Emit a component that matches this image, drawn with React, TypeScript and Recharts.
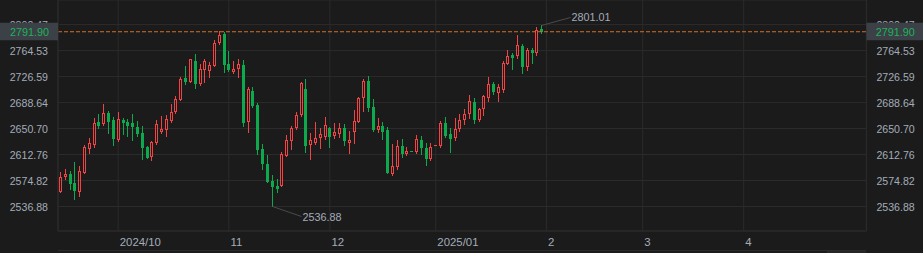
import React from 'react';
import { ComposedChart, Bar, XAxis, YAxis, CartesianGrid, ReferenceLine } from 'recharts';

// ---- categories ----
const START_DATE = '2024-09-13';
const SLOT_COUNT = 168; // trading-day slots shown on the axis (data + empty future)

const monthTicks = ['2024-10-01', '2024-11-01', '2024-12-02', '2025-01-01', '2025-02-03', '2025-03-03', '2025-04-01'];
const monthLabels = ['2024/10', '11', '12', '2025/01', '2', '3', '4'];

// ---- series (daily OHLC) ----
const opens = [
  2558.2, 2580.2, 2584.1, 2571.4, 2558.2, 2586.0, 2621.2, 2627.0, 2660.2, 2657.3,
  2673.4, 2662.7, 2634.3, 2663.1, 2660.2, 2659.2, 2653.3, 2644.1, 2623.7, 2609.5,
  2629.1, 2646.0, 2649.0, 2662.1, 2675.3, 2692.4, 2724.2, 2718.7, 2749.5, 2715.8,
  2736.7, 2735.3, 2742.2, 2774.8, 2788.5, 2745.0, 2733.4, 2737.8, 2743.6, 2660.7,
  2705.6, 2685.1, 2620.3, 2598.8, 2573.9, 2566.6, 2567.0, 2610.5, 2632.9, 2651.0,
  2670.5, 2708.5, 2627.0, 2629.9, 2637.3, 2638.8, 2651.4, 2639.3, 2643.1, 2651.4,
  2629.9, 2645.2, 2660.2, 2694.9, 2720.2, 2682.2, 2649.0, 2654.4, 2648.5, 2584.6,
  2594.8, 2625.1, 2613.8, 2617.4, 2616.8, 2633.4, 2621.7, 2606.5, 2626.1, 2625.1,
  2659.2, 2642.7, 2637.3, 2649.5, 2662.7, 2671.5, 2689.5, 2663.6, 2678.8, 2694.9,
  2715.8, 2702.2, 2707.5, 2745.5, 2758.3, 2756.3, 2771.4, 2741.1, 2765.6, 2760.7,
  2796.3,
];
const highs = [
  2586.6, 2591.5, 2588.5, 2601.7, 2595.8, 2626.1, 2636.8, 2666.1, 2671.9, 2686.6,
  2676.3, 2667.5, 2674.9, 2666.1, 2664.6, 2671.9, 2661.7, 2654.4, 2625.1, 2632.9,
  2663.1, 2669.0, 2670.5, 2686.6, 2698.3, 2726.1, 2742.2, 2752.8, 2759.7, 2744.6,
  2751.4, 2748.4, 2779.8, 2793.4, 2791.5, 2764.1, 2749.5, 2752.4, 2750.9, 2711.9,
  2711.9, 2687.6, 2628.0, 2611.9, 2582.7, 2576.8, 2616.8, 2641.6, 2654.4, 2674.4,
  2719.2, 2723.1, 2644.1, 2659.8, 2651.0, 2667.5, 2652.9, 2658.3, 2658.8, 2657.7,
  2647.1, 2677.8, 2697.2, 2723.1, 2727.5, 2693.9, 2666.1, 2660.2, 2652.9, 2628.0,
  2633.9, 2635.3, 2623.2, 2617.4, 2641.2, 2639.7, 2629.5, 2629.9, 2626.1, 2661.7,
  2667.5, 2651.4, 2666.1, 2671.9, 2679.2, 2699.7, 2695.3, 2680.7, 2700.2, 2726.1,
  2718.7, 2715.8, 2749.9, 2765.1, 2761.6, 2787.5, 2774.3, 2768.5, 2768.5, 2799.0,
  2801.01,
];
const lows = [
  2556.8, 2575.8, 2560.7, 2546.1, 2550.5, 2584.1, 2613.4, 2622.6, 2650.0, 2654.2,
  2643.1, 2625.4, 2631.4, 2641.7, 2638.3, 2632.9, 2638.8, 2604.6, 2606.1, 2603.6,
  2626.6, 2642.7, 2638.8, 2658.8, 2671.9, 2690.9, 2714.4, 2717.3, 2708.5, 2712.9,
  2717.7, 2724.2, 2740.7, 2771.9, 2732.3, 2733.4, 2730.0, 2724.7, 2653.3, 2644.6,
  2681.1, 2611.9, 2590.4, 2570.5, 2536.88, 2555.9, 2565.6, 2609.0, 2619.2, 2648.5,
  2668.0, 2615.3, 2604.6, 2626.6, 2620.8, 2633.9, 2622.2, 2635.3, 2636.4, 2624.7,
  2613.0, 2628.5, 2658.3, 2675.3, 2675.3, 2646.0, 2644.1, 2634.3, 2584.1, 2581.7,
  2590.0, 2607.5, 2610.5, 2617.4, 2613.8, 2611.9, 2595.8, 2603.2, 2626.1, 2622.6,
  2637.3, 2615.3, 2632.9, 2646.0, 2655.8, 2665.0, 2657.3, 2660.7, 2669.0, 2689.9,
  2700.2, 2689.5, 2703.1, 2743.2, 2736.7, 2752.8, 2730.9, 2735.3, 2745.5, 2756.8,
  2789.0,
];
const closes = [
  2579.3, 2583.7, 2569.5, 2559.3, 2588.5, 2623.2, 2629.5, 2658.8, 2654.4, 2672.9,
  2660.2, 2635.8, 2664.2, 2659.2, 2654.4, 2652.9, 2642.7, 2622.2, 2608.0, 2631.0,
  2657.3, 2649.5, 2664.2, 2674.3, 2693.4, 2722.7, 2719.2, 2751.4, 2715.8, 2737.8,
  2749.5, 2743.6, 2775.8, 2787.5, 2743.6, 2736.3, 2737.8, 2744.6, 2659.2, 2708.0,
  2684.1, 2619.7, 2599.2, 2572.9, 2565.6, 2562.6, 2613.0, 2633.4, 2651.0, 2670.5,
  2717.3, 2625.1, 2633.9, 2636.3, 2642.7, 2655.3, 2638.8, 2645.6, 2651.0, 2632.9,
  2633.9, 2661.3, 2695.3, 2720.2, 2681.1, 2648.9, 2654.4, 2646.0, 2585.6, 2595.8,
  2624.7, 2613.4, 2617.8, 2617.4, 2635.3, 2622.6, 2606.1, 2624.1, 2626.1, 2659.2,
  2640.2, 2635.8, 2650.0, 2662.7, 2671.5, 2690.5, 2663.1, 2679.2, 2698.3, 2715.4,
  2704.6, 2711.0, 2747.0, 2757.2, 2754.3, 2772.4, 2741.1, 2765.1, 2760.2, 2794.4,
  2791.9,
];

// ---- axis ticks ----
const yTicks = [2536.88, 2574.82, 2612.76, 2650.7, 2688.64, 2726.59, 2764.53, 2802.47];
const yDomain: [number, number] = [2501.13, 2838.21];
const lastPrice = 2791.9;
const axisTicks = [...yTicks, lastPrice]; // last price tag drawn last, on top

// ---- styles ----
const BG = '#1b1b1b';
const GRID = '#2b2b2b';
const TEXT = '#a3acb9';
const RED = '#f04343';
const GREEN = '#0fa94d';
const DASH = '#d46f26';
const TAG_BG = '#3b4147';
const TAG_TEXT = '#1fb25a';
const FONT = '"Liberation Sans", Arial, sans-serif';
const LEFT_W = 58;
const RIGHT_W = 56.6;
const TICK_GAP = 10;

function buildWeekdays(start: string, count: number): string[] {
  const out: string[] = [];
  const d = new Date(start + 'T00:00:00Z');
  while (out.length < count) {
    const wd = d.getUTCDay();
    if (wd !== 0 && wd !== 6) out.push(d.toISOString().slice(0, 10));
    d.setUTCDate(d.getUTCDate() + 1);
  }
  return out;
}

const dates = buildWeekdays(START_DATE, SLOT_COUNT);
const rows = dates.map((d, i) =>
  i < opens.length
    ? {
        d,
        o: opens[i],
        h: highs[i],
        l: lows[i],
        c: closes[i],
        pc: i > 0 ? closes[i - 1] : opens[i],
        range: [lows[i], highs[i]],
      }
    : { d }
);

const MAX_HIGH = Math.max(...highs);
const MIN_LOW = Math.min(...lows);

function Candle(props: any) {
  const { x, y, width, height, payload } = props;
  if (!payload || payload.o == null || x == null || y == null) return null;
  const { o, h, l, c, pc } = payload;
  const up = c > o || (c === o && c >= pc);
  const color = up ? RED : GREEN;
  const cx = Math.round(x + width / 2 - 0.5) + 0.5;
  const span = h - l;
  const hh = height || 0;
  const ppu = span > 0 ? hh / span : 0;
  const yH = y;
  const yL = y + hh;
  const yO = y + (h - o) * ppu;
  const yC = y + (h - c) * ppu;
  const T = Math.round(Math.min(yO, yC));
  const B = Math.round(Math.max(yO, yC));
  const els: React.ReactNode[] = [];
  if (B - T < 1) {
    els.push(<line key="w" x1={cx} x2={cx} y1={Math.round(yH)} y2={Math.round(yL)} stroke={color} strokeWidth={1} />);
    els.push(<rect key="b" x={cx - 1.5} y={T} width={3} height={1} fill={color} />);
  } else if (up) {
    els.push(<line key="wt" x1={cx} x2={cx} y1={Math.round(yH)} y2={T} stroke={color} strokeWidth={1} />);
    els.push(<line key="wb" x1={cx} x2={cx} y1={B} y2={Math.round(yL)} stroke={color} strokeWidth={1} />);
    els.push(
      <rect key="b" x={cx - 1} y={T + 0.5} width={2} height={Math.max(B - T - 1, 0)} fill="none" stroke={color} strokeWidth={1} />
    );
  } else {
    els.push(<line key="w" x1={cx} x2={cx} y1={Math.round(yH)} y2={Math.round(yL)} stroke={color} strokeWidth={1} />);
    els.push(<rect key="b" x={cx - 1.5} y={T} width={3} height={B - T} fill={color} />);
  }
  if (h === MAX_HIGH) {
    els.push(<line key="ml" x1={cx} y1={yH} x2={cx + 29} y2={yH - 8} stroke="#4a4a4a" strokeWidth={1} />);
    els.push(
      <text key="mt" x={cx + 30} y={yH - 8 + 4} fill={TEXT} fontSize={10.8} fontFamily={FONT}>
        {h.toFixed(2)}
      </text>
    );
  }
  if (l === MIN_LOW) {
    els.push(<line key="nl" x1={cx} y1={yL} x2={cx + 29} y2={yL + 10} stroke="#4a4a4a" strokeWidth={1} />);
    els.push(
      <text key="nt" x={cx + 30} y={yL + 10 + 4} fill={TEXT} fontSize={10.8} fontFamily={FONT}>
        {l.toFixed(2)}
      </text>
    );
  }
  return <g>{els}</g>;
}

function XTick(props: any) {
  const { x, y, payload } = props;
  const idx = monthTicks.indexOf(payload.value);
  const label = idx >= 0 ? monthLabels[idx] : '';
  return (
    <text x={x + 1.6} y={y + 14.5} fill={TEXT} fontSize={11.4} fontFamily={FONT} textAnchor="start">
      {label}
    </text>
  );
}

function YTick(props: any) {
  const { x, y, payload, textAnchor, side } = props;
  const v = Number(payload.value);
  if (v === lastPrice) {
    const left = side === 'left';
    const boxX = left ? x + TICK_GAP - LEFT_W : x - TICK_GAP;
    const boxW = left ? LEFT_W : RIGHT_W + 4;
    return (
      <g>
        <rect x={boxX} y={y - 9} width={boxW} height={17.5} fill={TAG_BG} />
        <text
          x={left ? x + 1 : x - 0.6}
          y={y + 4}
          fill={TAG_TEXT}
          fontSize={10.8}
          fontFamily={FONT}
          textAnchor={textAnchor}
        >
          {v.toFixed(2)}
        </text>
      </g>
    );
  }
  return (
    <text x={x} y={y + 4.4} fill={TEXT} fontSize={10.6} fontFamily={FONT} textAnchor={textAnchor}>
      {v.toFixed(2)}
    </text>
  );
}

export default function App() {
  return (
    <div style={{ position: 'fixed', left: 0, top: 0, width: 923, height: 253, background: BG, overflow: 'hidden' }}>
      <ComposedChart width={923} height={250} data={rows} margin={{ top: 0, right: 0, bottom: 0, left: 0 }}>
        <CartesianGrid stroke={GRID} yAxisId="G" horizontal vertical />
        <XAxis
          dataKey="d"
          ticks={monthTicks}
          interval={0}
          height={19}
          tickLine={false}
          tickSize={0}
          tickMargin={0}
          axisLine={{ stroke: GRID }}
          tick={<XTick />}
        />
        <YAxis
          yAxisId="L"
          orientation="left"
          type="number"
          domain={yDomain}
          ticks={axisTicks}
          interval={0}
          width={LEFT_W}
          tickLine={false}
          tickSize={0}
          tickMargin={TICK_GAP}
          axisLine={{ stroke: GRID }}
          tick={<YTick side="left" />}
          allowDataOverflow
        />
        <YAxis
          yAxisId="R"
          orientation="right"
          type="number"
          domain={yDomain}
          ticks={axisTicks}
          interval={0}
          width={RIGHT_W}
          tickLine={false}
          tickSize={0}
          tickMargin={TICK_GAP}
          axisLine={{ stroke: GRID }}
          tick={<YTick side="right" />}
          allowDataOverflow
        />
        <YAxis yAxisId="G" hide width={0} type="number" domain={yDomain} ticks={yTicks} allowDataOverflow />
        <Bar yAxisId="L" dataKey="range" shape={<Candle />} isAnimationActive={false} />
        <ReferenceLine yAxisId="L" y={lastPrice} stroke={DASH} strokeDasharray="4 2" strokeWidth={1} />
      </ComposedChart>
      <div style={{ position: 'absolute', left: 58, top: 250, width: 808.4, height: 3, borderTop: `1px solid ${GRID}` }} />
      <div style={{ position: 'absolute', left: 827, top: 251, width: 39, height: 2, background: '#262626' }} />
    </div>
  );
}
